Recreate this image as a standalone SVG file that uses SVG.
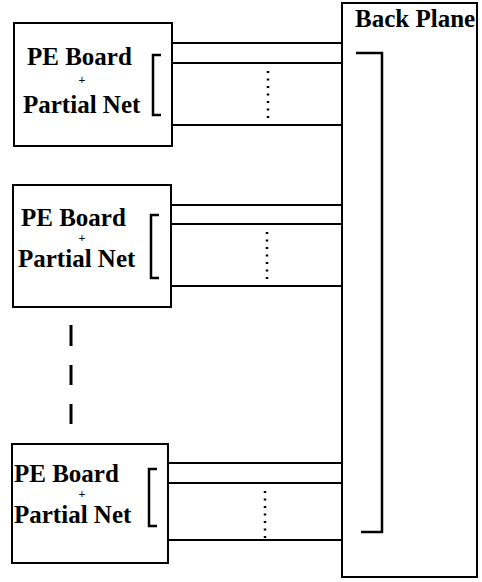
<svg xmlns="http://www.w3.org/2000/svg" width="482" height="582" viewBox="0 0 482 582">
<style>
.box{fill:#fff;stroke:#000;stroke-width:2}
.ln{fill:none;stroke:#000;stroke-width:2}
.br{fill:none;stroke:#000;stroke-width:2.5}
.dot{fill:none;stroke:#000;stroke-width:2.5;stroke-dasharray:2 5.5}
.dash{fill:none;stroke:#000;stroke-width:3}
.t{font-family:"Liberation Serif","Times New Roman",serif;font-weight:bold;font-size:25px;fill:#000}
.p{font-family:"Liberation Serif","Times New Roman",serif;font-weight:bold;font-size:12px;fill:#000}
</style>
<rect width="482" height="582" fill="#fff"/>
<g id="backplane">
<rect class="box" x="342" y="3" width="135" height="574"/>
<text class="t" x="355" y="27">Back Plane</text>
<path class="br" d="M356,53 H382 V532 H361"/>
</g>
<g id="board1">
<rect class="box" x="14" y="23" width="158" height="123"/>
<text class="t" x="27" y="65">PE Board</text>
<text class="p" x="82" y="84" text-anchor="middle">+</text>
<text class="t" x="23" y="113">Partial Net</text>
<path class="br" d="M161,55 H153 V115 H161"/>
</g>
<g id="board2">
<rect class="box" x="13" y="185" width="158" height="122"/>
<text class="t" x="21" y="226">PE Board</text>
<text class="p" x="82" y="242" text-anchor="middle">+</text>
<text class="t" x="18" y="267">Partial Net</text>
<path class="br" d="M159,215 H151 V278 H159"/>
</g>
<g id="board3">
<rect class="box" x="12" y="444" width="156" height="119"/>
<text class="t" x="14" y="482">PE Board</text>
<text class="p" x="82" y="498" text-anchor="middle">+</text>
<text class="t" x="14" y="523">Partial Net</text>
<path class="br" d="M157,469 H149 V526 H157"/>
</g>
<g id="connectors">
<path class="ln" d="M172,43 H342 M172,63 H342 M172,125 H342"/>
<path class="dot" d="M268,71 V121"/>
<path class="ln" d="M171,205 H342 M171,224 H342 M171,286 H342"/>
<path class="dot" d="M267,232 V281"/>
<path class="ln" d="M168,463 H342 M168,483 H342 M168,540 H342"/>
<path class="dot" d="M265,491 V538"/>
<path class="dash" d="M71,325 V346 M71,365 V385 M71,404 V424"/>
</g>
</svg>
